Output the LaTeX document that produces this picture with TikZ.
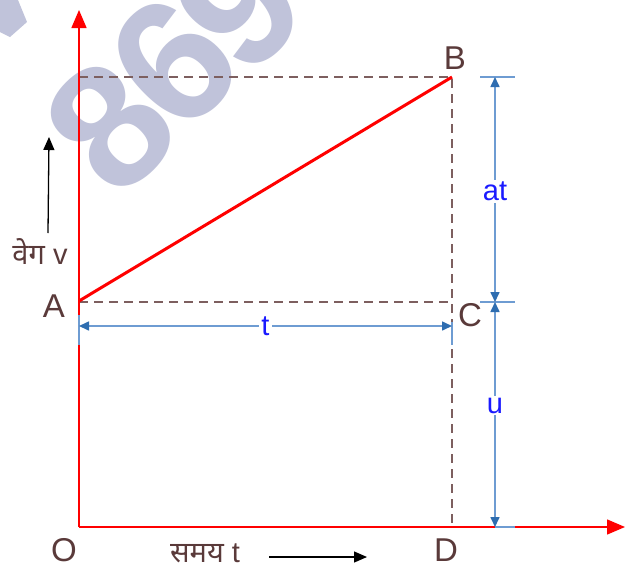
\documentclass[tikz,border=0pt]{standalone}
\usepackage{fontspec}
\setmainfont{Liberation Sans}
\newfontfamily\hindi[Script=Devanagari]{Noto Sans}
\usetikzlibrary{arrows.meta}
\definecolor{lbl}{HTML}{5A3A3A}
\definecolor{guidec}{HTML}{7D5F5F}
\definecolor{dimc}{HTML}{6E9CD2}
\definecolor{dimtip}{HTML}{2E6DB0}
\definecolor{txtblue}{HTML}{1A1AFF}
\definecolor{wm}{HTML}{C0C3DA}
\tikzset{
  axisline/.style={color=red, line width=1.4pt, -{Triangle[length=18pt,width=15pt]}},
  guide/.style={color=guidec, line width=1.2pt, dash pattern=on 9pt off 6pt},
  dimline/.style={color=dimc, line width=1.6pt, {Triangle[length=10pt,width=9pt,color=dimtip]}-{Triangle[length=10pt,width=9pt,color=dimtip]}},
  ticks/.style={color=dimc, line width=1.6pt},
  lab/.style={text=lbl, font=\fontsize{33}{33}\selectfont, inner sep=0pt},
  dimlab/.style={text=txtblue, fill=white, font=\fontsize{29}{29}\selectfont, inner sep=2pt},
  blackarrow/.style={color=black, line width=1.3pt, -{Triangle[length=13pt,width=11pt]}},
  wmdigit/.style={rotate=45, text=wm, font=\bfseries\fontsize{175}{175}\selectfont, inner sep=0pt},
}
\begin{document}
\begin{tikzpicture}[x=1pt,y=-1pt]
\useasboundingbox (0,0) rectangle (625,574);
\fill[white] (0,0) rectangle (625,574);
% watermark
\begin{scope}
\clip (0,0) rectangle (625,574);
\node[wmdigit] (wm8) at (110,126) {8};
\node[wmdigit] (wm6) at (173,62) {6};
\node[wmdigit] (wm9) at (238,4) {9};
\fill[wm] (0,0) -- (18,0) -- (27,22) -- (10,37) -- (0,32) -- cycle;
\end{scope}
% points
\coordinate (O) at (79,527);
\coordinate (Ytop) at (79,10);
\coordinate (Xend) at (625,527);
\coordinate (A) at (79,301);
\coordinate (Ad) at (79,302);
\coordinate (B) at (452,77);
\coordinate (Bl) at (79,77);
\coordinate (C) at (452,302);
\coordinate (D) at (452,523);
% guides
\draw[guide] (Bl) -- (B) -- (D);
\draw[guide] (Ad) -- (C);
% axes
\draw[axisline] (O) -- (Ytop);
\draw[axisline] (O) -- (Xend);
% graph line
\draw[red, line width=3pt] (A) -- (B);
% t dimension
\coordinate (tL) at (79,326);
\coordinate (tR) at (452,326);
\draw[ticks] (79,315) -- (79,345);
\draw[ticks] (452,322) -- (452,345);
\draw[dimline] (tL) -- node[dimlab] (tlab) {t} (tR);
% right dimensions
\coordinate (r1) at (495,77);
\coordinate (r2) at (495,302);
\coordinate (r3) at (495,527);
\draw[ticks] (480,77) -- (515,77);
\draw[ticks] (480,302) -- (515,302);
\draw[ticks] (495,527) -- (515,527);
\draw[dimline] (r1) -- node[dimlab, pos=0.51] (atlab) {at} (r2);
\draw[dimline] (r2) -- node[dimlab, pos=0.46] (ulab) {u} (r3);
% labels
\node[lab] (Blab) at (455,58) {B};
\node[lab] (Alab) at (54,306) {A};
\node[lab] (Clab) at (470,315) {C};
\node[lab] (Olab) at (64,550) {O};
\node[lab] (Dlab) at (446,550) {D};
\node[text=lbl, inner sep=0pt, font=\fontsize{29}{29}\selectfont] (vlab) at (40,252) {{\hindi वेग} v};
\node[text=lbl, inner sep=0pt, font=\fontsize{29}{29}\selectfont] (tlabel) at (205,553) {{\hindi समय} t};
% black arrows
\coordinate (va) at (48,233);
\coordinate (vb) at (49,137);
\draw[blackarrow] (va) -- (vb);
\coordinate (ta) at (269,557);
\coordinate (tb) at (367,557);
\draw[blackarrow] (ta) -- (tb);
\end{tikzpicture}
\end{document}
